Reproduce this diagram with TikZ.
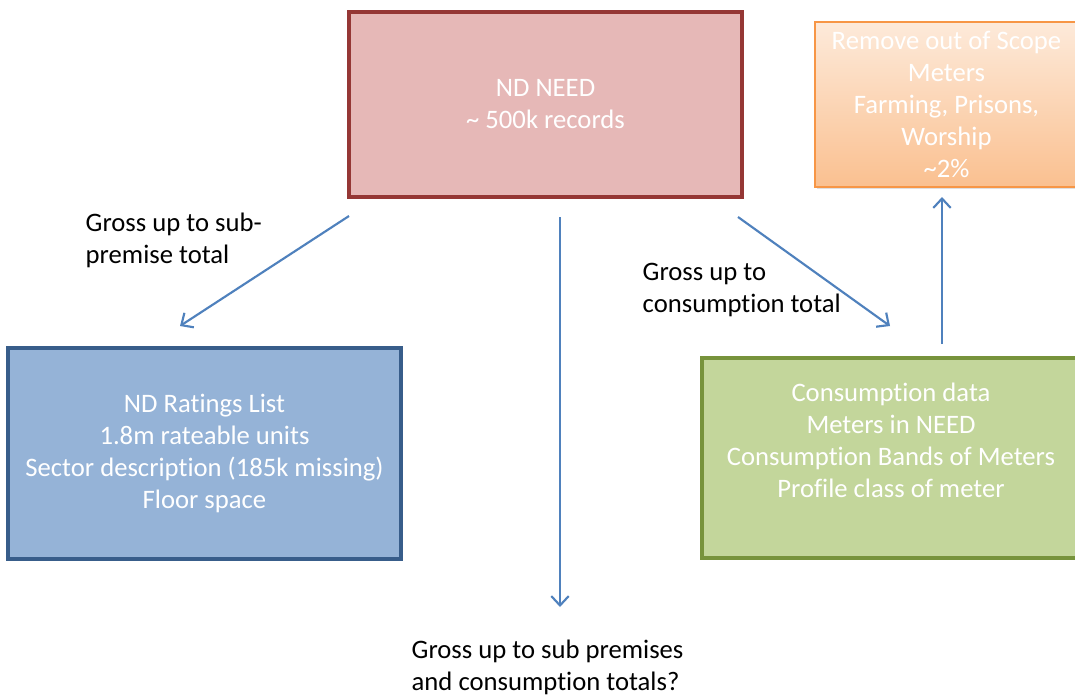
\documentclass[tikz,border=0pt]{standalone}
\usepackage{fontspec}
\setmainfont[RawFeature={-liga;-clig;-calt;-dlig}]{Carlito}
\usetikzlibrary{arrows.meta,shadows}

\definecolor{needfill}{HTML}{E6B8B7}
\definecolor{needline}{HTML}{953735}
\definecolor{ratefill}{HTML}{95B3D7}
\definecolor{rateline}{HTML}{385D8A}
\definecolor{consfill}{HTML}{C3D69B}
\definecolor{consline}{HTML}{77933C}
\definecolor{scopetop}{HTML}{FDEADA}
\definecolor{scopebot}{HTML}{FAC090}
\definecolor{scopeline}{HTML}{F79646}
\definecolor{arrowblue}{HTML}{4F81BD}

\tikzset{
  box/.style={draw, line width=2.5pt, text=white, align=center,
    font=\fontsize{20}{24}\selectfont},
  note/.style={align=left, anchor=west, font=\fontsize{20}{24}\selectfont},
  flow/.style={arrowblue, line width=1.6pt, -{Straight Barb[length=7pt,width=13pt]}}
}

\begin{document}
\begin{tikzpicture}[x=0.75pt,y=-0.75pt]
\clip (0,0) rectangle (1075,697);
\fill[white] (0,0) rectangle (1075,697);

% boxes
\node[box, fill=needfill, draw=needline, minimum width=294.75pt, minimum height=138.75pt]
  (need) at (545.5,104.5) {ND NEED\\\textasciitilde{} 500k records};
\node[box, line width=0.8pt, draw=scopeline, top color=scopetop, bottom color=scopebot,
  drop shadow={opacity=0.25, shadow xshift=1.5pt, shadow yshift=-1.5pt},
  minimum width=197.25pt, minimum height=123.75pt]
  (scope) at (946.5,104.5) {Remove out of Scope\\Meters\\Farming, Prisons,\\Worship\\\textasciitilde2\%};
\node[box, fill=ratefill, draw=rateline, minimum width=294.75pt, minimum height=158.25pt]
  (rate) at (204.5,453.5) {ND Ratings List\\1.8m rateable units\\Sector description (185k missing)\\Floor space};
\node[box, fill=consfill, draw=consline, minimum width=283.5pt, minimum height=150pt]
  (cons) at (891,458) {};
\node[box, draw=none] (constext) at (891,440)
  {Consumption data\\Meters in NEED\\Consumption Bands of Meters\\Profile class of meter};

% arrow ends
\coordinate (a1) at (349,216);
\coordinate (b1) at (180,326);
\coordinate (a2) at (560,217);
\coordinate (b2) at (560,607);
\coordinate (a3) at (738,217);
\coordinate (b3) at (890,326);
\coordinate (a4) at (942,344);
\coordinate (b4) at (942,197);

\draw[flow] (a1) -- (b1);
\draw[flow] (a2) -- (b2);
\draw[flow] (a3) -- (b3);
\draw[flow] (a4) -- (b4);

% notes
\node[note] (n1) at (81,240) {Gross up to sub-\\premise total};
\node[note] (n2) at (638,289.5) {Gross up to\\consumption total};
\node[note] (n3) at (407,667.5) {Gross up to sub premises\\and consumption totals?};
\end{tikzpicture}
\end{document}
